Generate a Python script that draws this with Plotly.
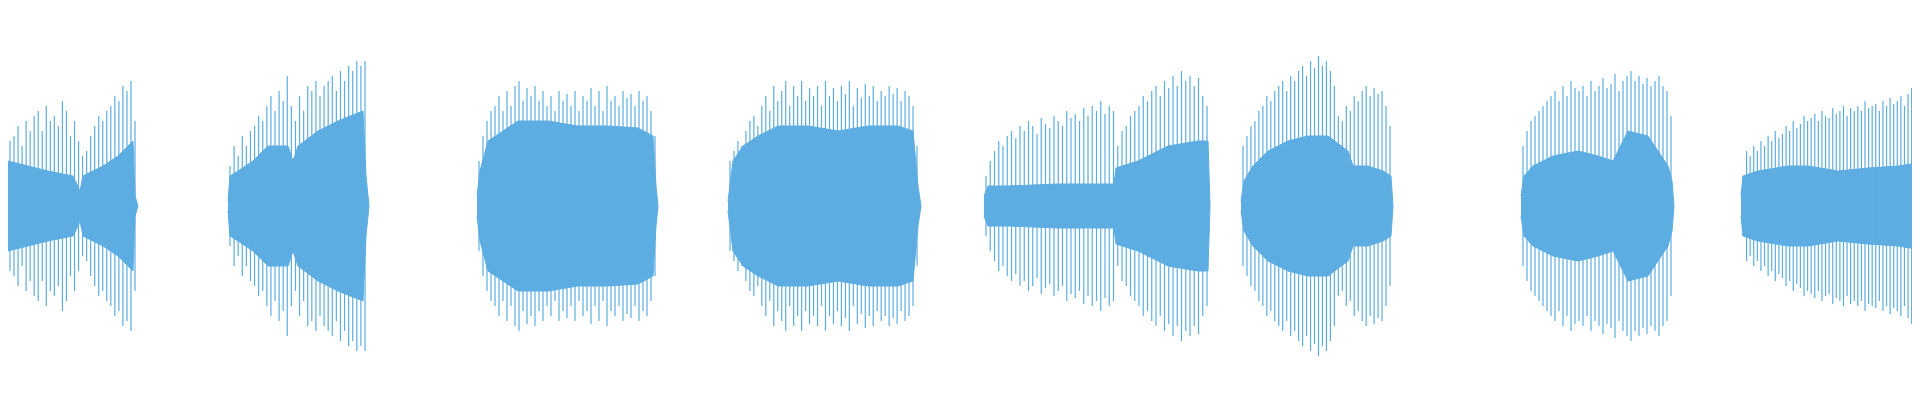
import numpy as np
import plotly.graph_objects as go

COLOR = "#5dade2"

# Segment extents (time units)
seg_start = [0, 220, 469, 720, 976, 1233, 1513, 1733]
seg_end = [129, 359, 649, 911, 1201, 1384, 1665, 1920]

# Dense body envelope per segment: (time, half amplitude)
body_t = [
    [0, 20, 40, 65, 70, 72, 75, 95, 110, 125, 127, 130],
    [220, 222, 230, 245, 260, 280, 285, 290, 310, 330, 355, 358, 361],
    [469, 472, 480, 495, 510, 540, 570, 600, 630, 645, 648, 650],
    [720, 725, 735, 750, 770, 800, 830, 860, 890, 905, 910, 913],
    [976, 980, 1000, 1050, 1100, 1106, 1108, 1130, 1160, 1190, 1200, 1202],
    [1233, 1236, 1245, 1260, 1280, 1300, 1320, 1340, 1345, 1360, 1375, 1383, 1385],
    [1513, 1516, 1525, 1545, 1570, 1590, 1605, 1620, 1640, 1660, 1664, 1666],
    [1733, 1735, 1750, 1780, 1800, 1830, 1860, 1890, 1920],
]
body_a = [
    [45, 40, 35, 30, 20, 15, 30, 40, 50, 65, 10, 0],
    [5, 30, 35, 45, 60, 60, 45, 60, 75, 85, 95, 30, 0],
    [10, 35, 65, 75, 85, 85, 80, 80, 78, 70, 20, 0],
    [5, 45, 60, 70, 80, 80, 75, 80, 80, 75, 20, 0],
    [10, 20, 20, 22, 22, 22, 38, 45, 60, 65, 65, 0],
    [5, 25, 40, 55, 65, 70, 70, 55, 40, 40, 35, 30, 0],
    [10, 30, 40, 50, 55, 50, 45, 75, 70, 40, 25, 0],
    [10, 30, 35, 40, 40, 35, 38, 40, 45],
]

# Outer spike peaks per segment (evenly spaced within segment)
spike_peaks = [
    [65, 70, 80, 60, 85, 75, 90, 95, 75, 100, 85, 90, 80, 105, 95, 70, 85, 65,
     50, 55, 70, 80, 90, 85, 95, 100, 110, 105, 120, 115, 125, 85],
    [40, 60, 50, 70, 60, 75, 80, 90, 85, 100, 110, 95, 115, 105, 130, 100, 85,
     110, 95, 120, 115, 125, 110, 120, 125, 130, 115, 135, 125, 140, 135, 145, 140, 145],
    [45, 70, 85, 95, 100, 110, 95, 115, 100, 120, 125, 105, 118, 110, 120, 105, 115,
     100, 110, 95, 115, 105, 112, 100, 115, 95, 110, 105, 118, 100, 115, 95, 120,
     105, 110, 100, 115, 108, 112, 100, 115, 105, 110, 95, 70],
    [45, 55, 65, 60, 75, 85, 90, 80, 100, 110, 95, 120, 105, 115, 125, 100, 120,
     110, 125, 105, 118, 110, 120, 100, 125, 110, 118, 105, 120, 112, 125, 100, 118,
     108, 122, 110, 120, 105, 115, 110, 120, 112, 118, 105, 115, 110, 100, 60],
    [30, 45, 55, 65, 60, 70, 75, 68, 80, 75, 85, 80, 72, 88, 82, 78, 90, 85, 80,
     95, 88, 92, 85, 98, 90, 100, 95, 105, 92, 100, 95, 60, 75, 80, 90, 95, 100,
     110, 105, 115, 120, 110, 125, 118, 130, 120, 135, 125, 130, 120, 128, 110, 100],
    [60, 70, 80, 85, 95, 100, 110, 105, 115, 120, 125, 115, 130, 125, 135, 140, 130,
     145, 138, 150, 140, 145, 135, 120, 90, 85, 100, 95, 110, 105, 115, 120, 110,
     118, 112, 115, 100, 80],
    [60, 75, 85, 90, 95, 100, 105, 110, 115, 105, 120, 110, 125, 118, 115, 120, 110,
     125, 115, 120, 128, 118, 122, 132, 115, 125, 130, 135, 125, 130, 122, 128, 120,
     125, 130, 120, 115, 90],
    [30, 55, 50, 60, 55, 65, 60, 70, 65, 75, 68, 72, 80, 75, 85, 78, 82, 90, 85,
     88, 92, 85, 95, 90, 88, 98, 92, 95, 100, 90, 98, 95, 100, 95, 105, 98, 100,
     102, 95, 105, 100, 108, 102, 105, 110, 100, 112, 118, 105, 120, 110, 100],
]

fig = go.Figure()

for t, a in zip(body_t, body_a):
    xs = list(t) + list(t)[::-1]
    ys = list(a) + [-v for v in a][::-1]
    fig.add_trace(go.Scatter(x=xs, y=ys, fill="toself", fillcolor=COLOR,
                             line=dict(color=COLOR, width=1), mode="lines",
                             hoverinfo="skip", showlegend=False))

for s, e, peaks in zip(seg_start, seg_end, spike_peaks):
    pos = np.linspace(s + 2, e - 2, len(peaks))
    sx, sy = [], []
    for p, h in zip(pos, peaks):
        sx += [p, p, None]
        sy += [-h, h, None]
    fig.add_trace(go.Scatter(x=sx, y=sy, mode="lines",
                             line=dict(color=COLOR, width=1.2),
                             hoverinfo="skip", showlegend=False))

# zero line between segments
fig.add_trace(go.Scatter(x=[0, 1920], y=[0, 0], mode="lines",
                         line=dict(color=COLOR, width=0.6), showlegend=False,
                         hoverinfo="skip", opacity=0))

fig.update_layout(
    width=1920, height=400, margin=dict(l=0, r=0, t=0, b=0),
    paper_bgcolor="white", plot_bgcolor="white",
    xaxis=dict(range=[0, 1920], visible=False),
    yaxis=dict(range=[-202, 198], visible=False),
)
fig.write_html("out.html")
